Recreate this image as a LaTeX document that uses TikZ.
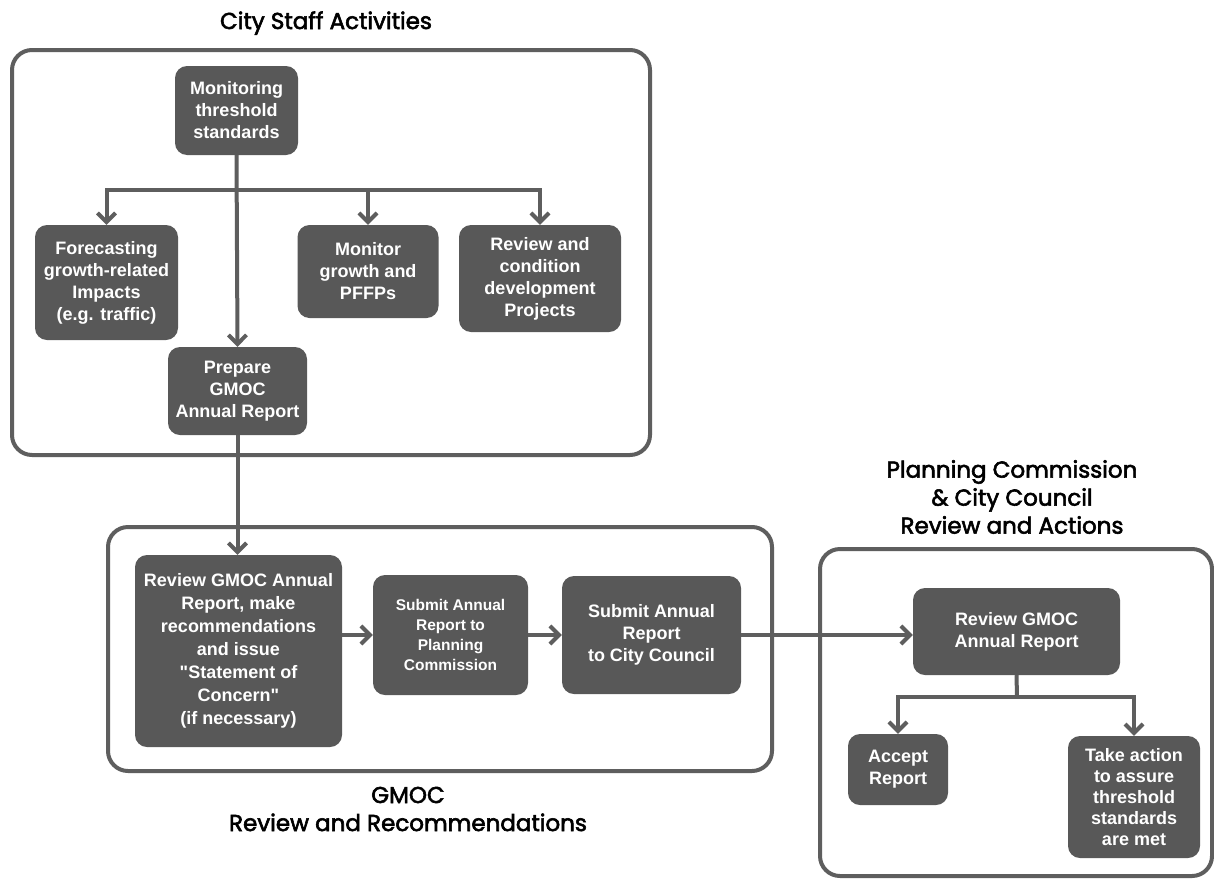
\documentclass[tikz,border=0pt]{standalone}
\usepackage{fontspec}
\setmainfont{Liberation Sans}[Ligatures=TeXOff]
\newfontfamily\titlefont{Poppins}[FakeBold=2.5]
\usetikzlibrary{arrows.meta}
\definecolor{boxgray}{RGB}{88,88,88}
\definecolor{linegray}{RGB}{94,94,94}
\begin{document}
\begin{tikzpicture}[x=1pt,y=-1pt,
  box/.style={rectangle, rounded corners=12pt, fill=boxgray, text=white,
    font=\bfseries\fontsize{18}{22}\selectfont, align=center, inner sep=0pt},
  frame/.style={draw=linegray, line width=4pt, rounded corners=20pt},
  ln/.style={draw=linegray, line width=4pt},
  arr/.style={draw=linegray, line width=4pt, -{Straight Barb[length=9pt,width=18pt]}},
  ttl/.style={font=\titlefont\fontsize{23}{28}\selectfont, align=center, text=black, inner sep=0pt}]
\useasboundingbox[fill=white] (0,0) rectangle (1214,878);

% frames
\draw[frame] (12,50) rectangle (650,455);
\draw[frame] (108,527) rectangle (772,771);
\draw[frame] (820,549) rectangle (1212,876);

% titles
\node[ttl, anchor=base] (t1) at (326,29) {City Staff Activities};
\node[ttl] (t2) at (1012,497) {Planning Commission\\\& City Council\\Review and Actions};
\node[ttl] (t3) at (408,809) {GMOC\\Review and Recommendations};

% city staff boxes
\node[box, minimum width=123pt, minimum height=89pt] (mon) at (236.5,110.5) {Monitoring\\threshold\\standards};
\node[box, minimum width=143pt, minimum height=115pt] (fore) at (106.5,282.5) {Forecasting\\growth-related\\Impacts\\(e.g. traffic)};
\node[box, minimum width=141pt, minimum height=93pt] (mgrow) at (368,271.5) {Monitor\\growth and\\PFFPs};
\node[box, minimum width=162pt, minimum height=107pt] (revc) at (540,278.5) {Review and\\condition\\development\\Projects};
\node[box, minimum width=139pt, minimum height=88pt] (prep) at (237.5,391) {Prepare\\GMOC\\Annual Report};

% GMOC boxes
\node[box, minimum width=207pt, minimum height=192pt, font=\bfseries\fontsize{18}{23}\selectfont] (rgmoc) at (238.5,651) {Review GMOC Annual\\Report, make\\recommendations\\and issue\\"Statement of\\Concern"\\(if necessary)};
\node[box, minimum width=155pt, minimum height=120pt, font=\bfseries\fontsize{15.5}{20}\selectfont] (subpc) at (450.5,635) {Submit Annual\\Report to\\Planning\\Commission};
\node[box, minimum width=179pt, minimum height=118pt] (subcc) at (651.5,635) {Submit Annual\\Report\\to City Council};

% planning commission boxes
\node[box, minimum width=207pt, minimum height=87pt] (rrev) at (1016.5,631.5) {Review GMOC\\Annual Report};
\node[box, minimum width=100pt, minimum height=71pt] (acc) at (898,769.5) {Accept\\Report};
\node[box, minimum width=132pt, minimum height=122pt, font=\bfseries\fontsize{18}{21}\selectfont] (take) at (1134,797) {Take action\\to assure\\threshold\\standards\\are met};

% connectors
\coordinate (br) at (237,190);
\coordinate (br2) at (1017,697);
\draw[arr] (mon.south) -- (prep.north);
\draw[arr] (mgrow.north |- br) -| (fore.north);
\draw[arr] (mgrow.north |- br) -| (revc.north);
\draw[arr] (mgrow.north |- br) -- (mgrow.north);
\draw[arr] (prep.south) -- (rgmoc.north -| prep.south);
\draw[arr] (rgmoc.east |- subpc.west) -- (subpc.west);
\draw[arr] (subpc.east) -- (subcc.west);
\draw[arr] (subcc.east) -- (subcc.east -| rrev.west);
\draw[ln] (rrev.south) -- (br2);
\draw[arr] (br2) -| (acc.north);
\draw[arr] (br2) -| (take.north);
\end{tikzpicture}
\end{document}
